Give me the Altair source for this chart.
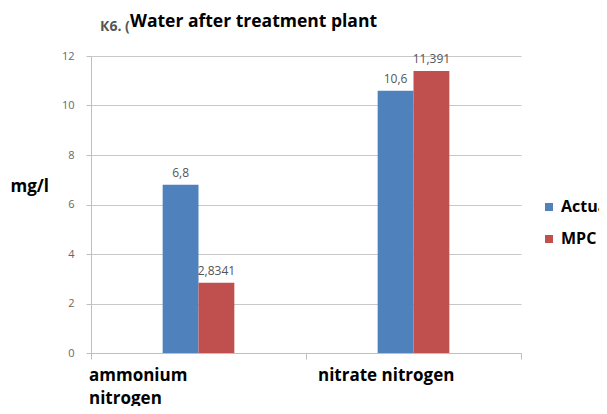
import altair as alt
import pandas as pd

categories = ["ammonium nitrogen", "nitrate nitrogen"]
series = ["Actual", "MPC"]
actual = [6.8, 10.6]
mpc = [2.8341, 11.391]
labels_actual = ["6,8", "10,6"]
labels_mpc = ["2,8341", "11,391"]
y_ticks = [0, 2, 4, 6, 8, 10, 12]
colors = ["#4F81BD", "#C0504D"]
title_text = "Water after treatment plant"
title_prefix = "К6. ("

rows = []
for i, c in enumerate(categories):
    rows.append(dict(category=c, series="Actual", value=actual[i], label=labels_actual[i]))
    rows.append(dict(category=c, series="MPC", value=mpc[i], label=labels_mpc[i]))
df = pd.DataFrame(rows)

FONT = "Open Sans"
# empty slots on each side of the pair of bars to narrow them within a category
offset_domain = ["_a", "_b"] + series + ["_c", "_d"]

x_enc = alt.X(
    "category:N", sort=categories,
    scale=alt.Scale(paddingInner=0, paddingOuter=0),
    axis=alt.Axis(
        title=None, labelAngle=0, labelAlign="left", labelBaseline="top",
        labelOffset={"condition": {"test": "datum.value == 'ammonium nitrogen'", "value": -110},
                     "value": -96},
        labelPadding=8, labelFont=FONT, labelFontSize=17,
        labelFontWeight="bold", labelColor="#000000", labelLimit=400,
        labelLineHeight=23,
        labelExpr="datum.label == 'ammonium nitrogen' ? ['ammonium', 'nitrogen'] : datum.label",
        tickBand="extent", tickSize=6, tickColor="#bfbfbf", domainColor="#bfbfbf",
    ),
)
xoff = alt.XOffset("series:N", scale=alt.Scale(domain=offset_domain, paddingInner=0, paddingOuter=0))
y_enc = alt.Y(
    "value:Q", scale=alt.Scale(domain=[0, 12], nice=False),
    axis=alt.Axis(
        values=y_ticks, grid=True, gridColor="#c8c8c8", domainColor="#bfbfbf",
        tickColor="#bfbfbf", tickSize=5, labelColor="#666666", labelFontSize=11,
        labelFont=FONT, labelPadding=12,
        title="mg/l", titleAngle=0, titleX=-81, titleY=130, titleAlign="left",
        titleBaseline="middle", titleFontSize=17, titleFontWeight="bold", titleFont=FONT,
        titleColor="#000000",
    ),
)

bars = alt.Chart(df).mark_bar().encode(
    x=x_enc, xOffset=xoff, y=y_enc,
    color=alt.Color("series:N", sort=series,
                    scale=alt.Scale(domain=series, range=colors),
                    legend=alt.Legend(title=None, orient="none", legendX=450, legendY=143,
                                      symbolType="square", symbolSize=64, symbolStrokeWidth=0,
                                      labelFont=FONT, labelFontSize=16, labelFontWeight="bold",
                                      labelColor="#000000", rowPadding=16, padding=0,
                                      labelOffset=4)),
)

text = alt.Chart(df).mark_text(baseline="bottom", dy=-5, fontSize=12, color="#555555", font=FONT).encode(
    x=alt.X("category:N", sort=categories), xOffset=xoff, y="value:Q", text="label:N"
)

prefix = alt.Chart(pd.DataFrame({"t": [title_prefix]})).mark_text(
    align="left", baseline="alphabetic", fontSize=14, color="#555555", fontWeight="bold", font=FONT
).encode(x=alt.value(9), y=alt.value(-25), text="t:N")

title = alt.Chart(pd.DataFrame({"t": [title_text]})).mark_text(
    align="left", baseline="alphabetic", fontSize=17.5, color="#000000", fontWeight="bold", font=FONT
).encode(x=alt.value(39), y=alt.value(-29), text="t:N")

chart = alt.layer(bars, text, prefix, title).properties(
    width=430, height=297,
    autosize=alt.AutoSizeParams(type="none"),
    padding={"left": 83, "top": 48, "right": 78, "bottom": 53},
).configure_view(stroke=None)

chart.save("out.html", embed_options={"renderer": "svg", "actions": False})
